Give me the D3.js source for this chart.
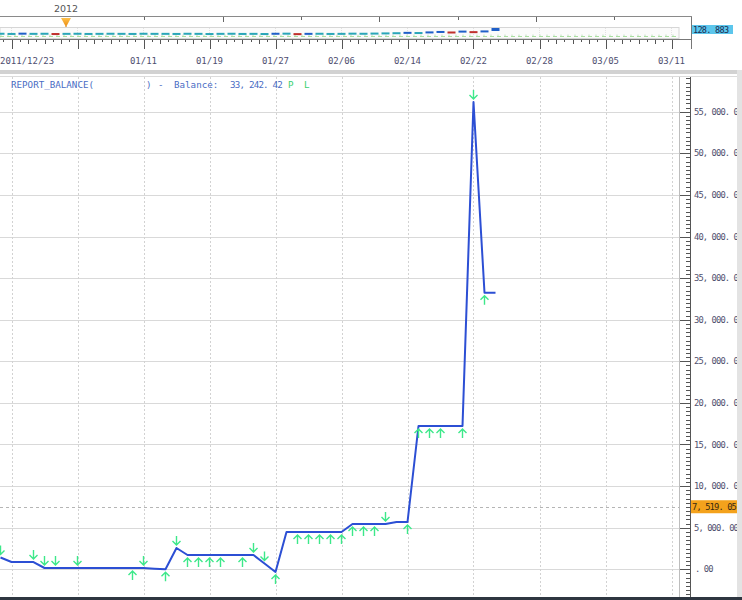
<!DOCTYPE html>
<html><head><meta charset="utf-8">
<script src="https://cdn.jsdelivr.net/npm/d3@7"></script>
<style>html,body{margin:0;padding:0;background:#fff;overflow:hidden}</style>
</head><body>
<svg id="c" width="742" height="600"></svg>
<script>
// ---------- data ----------
const barIndex = d3.range(-1, 45);
const balance = [1418,
  877, 877, 877,
  156, 156, 156, 156, 156, 156, 156, 156, 156, 156,
  75, 0, 2560,
  1719, 1719, 1719, 1719, 1719, 1719, 1719,
  700, -325,
  4483, 4483, 4483, 4483, 4483, 4483,
  5445, 5445, 5445, 5445,
  5685, 5685,
  17224, 17224, 17224, 17224, 17224,
  56166, 33242.42, 33242.42];
const downBars = [-1, 2, 3, 4, 6, 12, 15, 22, 23, 34, 42];
const upBars = [11, 14, 16, 17, 18, 19, 21, 24, 26, 27, 28, 29, 30, 31, 32, 33, 36, 37, 38, 39, 41, 43];
const gridBars = d3.range(0, 61, 6);
const dateLabels = ["2011/12/23", "", "01/11", "01/19", "01/27", "02/06", "02/14", "02/22", "02/28", "03/05", "03/11"];
const yTickValues = d3.range(0, 55001, 5000);
const refLevel = 7519.05;
const navClose = [123.6, 123.4, 123.7, 123.5, 123.6, 123.3, 123.5, 123.6, 123.4, 123.5,
  123.6, 123.5, 123.4, 123.6, 123.5, 123.5, 123.4, 123.6, 123.5, 123.3,
  123.5, 123.6, 123.4, 123.5, 123.3, 123.6, 123.7, 123.2, 123.5, 123.6,
  123.4, 123.5, 123.7, 123.6, 123.8, 124.0, 124.2, 124.6, 124.4, 125.1,
  125.6, 125.0, 126.0, 125.4, 126.2, 128.883];
const navLast = 128.883;
const navYear = "2012";
const navMonthTicks = d3.range(0, 8);
const titleName = "REPORT_BALANCE(";
const titleClose = ")";
const balanceLabel = "Balance:";

// ---------- scales ----------
const svg = d3.select("#c");
const x = d3.scaleLinear().domain([0, 60]).range([11.5, 671.5]);
const y = d3.scaleLinear().domain([0, 55000]).range([569.3, 111.7]);
const navY = d3.scaleLinear().domain([120, 130]).range([37, 28]);
const navTop = d3.scaleLinear().domain([0, 8]).range([66, 692.4]);

const mono = "DejaVu Sans Mono, Liberation Mono, monospace";
const fmt = v => {
  let s = d3.format(",.2f")(v);
  s = s.replace(/^0\./, ".");
  return s.replace(/,/g, ", ").replace(/\./g, ". ");
};

// ---------- navigator ----------
const nav = svg.append("g");
nav.append("line").attr("x1", 0).attr("x2", 692).attr("y1", 16.5).attr("y2", 16.5).attr("stroke", "#8a8a8a");
nav.selectAll(".mt").data(navMonthTicks.slice(1)).join("line")
  .attr("x1", d => Math.round(navTop(d)) + 0.5).attr("x2", d => Math.round(navTop(d)) + 0.5)
  .attr("y1", 17).attr("y2", d => d % 2 ? 20 : 22).attr("stroke", "#666");
nav.append("text").attr("x", navTop(0)).attr("y", 12).attr("text-anchor", "middle")
  .attr("font-family", "Tahoma, DejaVu Sans, sans-serif").attr("font-size", 9.5).attr("fill", "#555").text(navYear);
const tx = navTop(0);
const grad = svg.append("defs").append("linearGradient").attr("id", "og").attr("x1", 0).attr("x2", 0).attr("y1", 0).attr("y2", 1);
grad.append("stop").attr("offset", 0).attr("stop-color", "#ffc04a");
grad.append("stop").attr("offset", 1).attr("stop-color", "#e88a10");
nav.append("path").attr("d", `M${tx - 5},18 L${tx + 5},18 L${tx},27 Z`).attr("fill", "url(#og)");
nav.append("line").attr("x1", tx).attr("x2", tx).attr("y1", 26).attr("y2", 30).attr("stroke", "#d08a30");

// mini panel
nav.append("rect").attr("x", 0).attr("y", 27.5).attr("width", 679).attr("height", 11)
  .attr("fill", "#fbfbfb").attr("stroke", "#d6d6d6");
nav.selectAll(".vg").data(gridBars).join("line")
  .attr("x1", d => x(d)).attr("x2", d => x(d)).attr("y1", 28).attr("y2", 38)
  .attr("stroke", "#e2e2e2").attr("stroke-dasharray", "1,1");
nav.append("line").attr("x1", 0).attr("x2", 679).attr("y1", 36.5).attr("y2", 36.5)
  .attr("stroke", "#a9dfa0").attr("stroke-dasharray", "4,3");
nav.append("line").attr("x1", 0).attr("x2", 679).attr("y1", 35.2).attr("y2", 35.2)
  .attr("stroke", "#cfe6cf").attr("stroke-dasharray", "2,5");
nav.selectAll(".nb").data(barIndex).join("rect")
  .attr("x", d => x(d) - 4).attr("width", 8)
  .attr("y", (d, i) => navY(navClose[i]) - 1).attr("height", (d, i) => i === navClose.length - 1 ? 3 : 2)
  .attr("fill", (d, i) => {
    if (i === 0) return "#2aa6b8";
    const c = navClose[i] - navClose[i - 1];
    return c > 0.25 ? "#1f5fc8" : c < -0.25 ? "#c0302c" : "#2aa6b8";
  });
// navigator ruler
nav.append("line").attr("x1", 0).attr("x2", 692).attr("y1", 39.5).attr("y2", 39.5).attr("stroke", "#777");
nav.append("line").attr("x1", 691.5).attr("x2", 691.5).attr("y1", 17).attr("y2", 49).attr("stroke", "#777");
const navSub = d3.range(-1, 81).map(i => i * 0.75);
nav.selectAll(".rt").data(navSub.filter(v => x(v) >= 0 && x(v) <= 690)).join("line")
  .attr("x1", d => Math.round(x(d)) + 0.5).attr("x2", d => Math.round(x(d)) + 0.5)
  .attr("y1", 40).attr("y2", d => (Math.abs(d % 6) < 1e-6) ? 49 : (Math.round(d / 0.75) % 2 ? 42 : 44))
  .attr("stroke", "#555");
// date labels
nav.selectAll(".dl").data(gridBars).join("text")
  .attr("font-family", mono).attr("font-size", 9).attr("fill", "#4e4e70")
  .attr("y", 64)
  .attr("x", (d, i) => Math.max(0, x(d) - dateLabels[i].length * 5.42 / 2))
  .text((d, i) => dateLabels[i]);
// last value box
nav.append("rect").attr("x", 692).attr("y", 25).attr("width", 41).attr("height", 9).attr("fill", "#5cc6ec");
nav.append("text").attr("x", 693).attr("y", 32.5).attr("font-family", mono).attr("font-size", 8.5)
  .attr("letter-spacing", -0.7).attr("fill", "#1a2a50")
  .text(d3.format(".3f")(navLast).replace(".", ". "));

// separator
svg.append("rect").attr("x", 0).attr("y", 70).attr("width", 742).attr("height", 4).attr("fill", "#d2d2d2");
svg.append("line").attr("x1", 0).attr("x2", 742).attr("y1", 76.5).attr("y2", 76.5).attr("stroke", "#dcdcdc");

// ---------- main panel ----------
const main = svg.append("g");
main.append("clipPath").attr("id", "pc").append("rect").attr("x", 0).attr("y", 77).attr("width", 679).attr("height", 520);
const plot = main.append("g").attr("clip-path", "url(#pc)");
plot.selectAll(".hg").data(yTickValues).join("line")
  .attr("x1", 0).attr("x2", 679).attr("y1", d => Math.round(y(d)) + 0.5).attr("y2", d => Math.round(y(d)) + 0.5)
  .attr("stroke", "#d9d9d9");
plot.selectAll(".vg").data(gridBars).join("line")
  .attr("x1", d => Math.round(x(d)) + 0.5).attr("x2", d => Math.round(x(d)) + 0.5).attr("y1", 77).attr("y2", 597)
  .attr("stroke", "#d2d2d2").attr("stroke-dasharray", "2,2");
plot.append("line").attr("x1", 0).attr("x2", 679)
  .attr("y1", Math.round(y(refLevel)) + 0.5).attr("y2", Math.round(y(refLevel)) + 0.5)
  .attr("stroke", "#b5b5b5").attr("stroke-dasharray", "3,3");

const line = d3.line().x(d => x(d[0])).y(d => y(d[1]));
plot.append("path").datum(barIndex.map((b, i) => [b, balance[i]]))
  .attr("d", line).attr("fill", "none").attr("stroke", "#2c4fd4").attr("stroke-width", 2)
  .attr("stroke-linejoin", "round");

const green = "#3de88a";
const balAt = b => balance[barIndex.indexOf(b)];
plot.selectAll(".da").data(downBars).join("path")
  .attr("d", b => {
    const cx = x(b), yl = y(balAt(b)), bot = yl - 3, top = yl - 12;
    return `M${cx},${top} L${cx},${bot} M${cx - 4},${bot - 4} L${cx},${bot} L${cx + 4},${bot - 4}`;
  })
  .attr("fill", "none").attr("stroke", green).attr("stroke-width", 1.4);
plot.selectAll(".ua").data(upBars).join("path")
  .attr("d", b => {
    const cx = x(b), yl = y(balAt(b)), top = yl + 3, bot = yl + 12;
    return `M${cx},${bot} L${cx},${top} M${cx - 4},${top + 4} L${cx},${top} L${cx + 4},${top + 4}`;
  })
  .attr("fill", "none").attr("stroke", green).attr("stroke-width", 1.4);

// legend
const lg = main.append("g").attr("font-family", mono).attr("font-size", 9.2).attr("fill", "#4a6cc4");
lg.append("text").attr("x", 11).attr("y", 88).text(titleName);
lg.append("text").attr("x", 146).attr("y", 88).text(titleClose);
lg.append("text").attr("x", 158).attr("y", 88).text("-");
lg.append("text").attr("x", 174).attr("y", 88).text(balanceLabel);
lg.append("text").attr("x", 230).attr("y", 88).attr("letter-spacing", -0.8).text(fmt(balance[balance.length - 1]));
lg.append("text").attr("x", 288).attr("y", 88).attr("fill", "#3ad070").text("P");
lg.append("text").attr("x", 304).attr("y", 88).attr("fill", "#3ad070").text("L");

// panel border & axis
main.append("line").attr("x1", 679.5).attr("x2", 679.5).attr("y1", 77).attr("y2", 597).attr("stroke", "#bdbdbd");
main.append("rect").attr("x", 737).attr("y", 70).attr("width", 5).attr("height", 527).attr("fill", "#e3e3e3");
main.append("line").attr("x1", 690.5).attr("x2", 690.5).attr("y1", 77).attr("y2", 597).attr("stroke", "#555");
const minorVals = d3.range(-3500, 59501, 500).filter(v => y(v) > 78 && y(v) < 597);
main.selectAll(".mn").data(minorVals).join("line")
  .attr("x1", d => (d % 5000 === 0) ? 680 : 686).attr("x2", 690)
  .attr("y1", d => Math.round(y(d)) + 0.5).attr("y2", d => Math.round(y(d)) + 0.5)
  .attr("stroke", "#555");
main.append("clipPath").attr("id", "ac").append("rect").attr("x", 680).attr("y", 70).attr("width", 57).attr("height", 530);
const ax = main.append("g").attr("clip-path", "url(#ac)");
ax.selectAll(".yl").data(yTickValues).join("text")
  .attr("x", d => d === 0 ? 695 : 694).attr("y", d => y(d) + 3)
  .attr("font-family", mono).attr("font-size", 8.8).attr("letter-spacing", -0.9).attr("fill", "#50506e")
  .text(d => fmt(d));
ax.append("rect").attr("x", 691).attr("y", y(refLevel) - 6.5).attr("width", 46).attr("height", 13).attr("fill", "#f4a21c");
ax.append("text").attr("x", 692).attr("y", y(refLevel) + 3)
  .attr("font-family", mono).attr("font-size", 8.8).attr("letter-spacing", -0.9).attr("fill", "#3a2a10")
  .text(fmt(refLevel));

svg.append("rect").attr("x", 0).attr("y", 597).attr("width", 742).attr("height", 3).attr("fill", "#2e3640");
</script>
</body></html>
